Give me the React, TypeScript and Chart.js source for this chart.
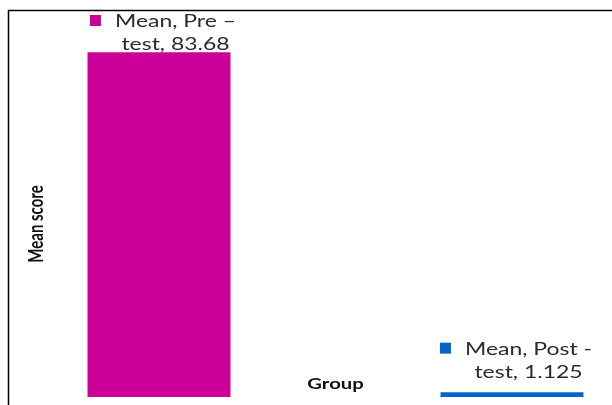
import { useEffect, useRef } from 'react';
import { Chart, registerables } from 'chart.js';

Chart.register(...registerables);

// Mean score per test group (the middle slot is an empty spacer)
const seriesName = 'Mean';
const groups = ['Pre – test', '', 'Post - test'];
const means: (number | null)[] = [83.68, null, 1.125];
const barColors = ['#CC0099', 'rgba(0,0,0,0)', '#0066CC'];
const yAxisTitle = 'Mean score';
const xAxisTitle = 'Group';
const yMin = 0;
const yMax = 84;

// Text in this figure is drawn horizontally widened
const STRETCH = 1.35;
const LABEL_FONT = '17px Lato';
const TITLE_FONT = 'bold 15px Lato';
const LABEL_COLOR = '#2b2b2b';
const TITLE_COLOR = '#111111';

function wrapText(ctx: CanvasRenderingContext2D, text: string, maxWidth: number): string[] {
  const words = text.split(' ');
  const lines: string[] = [];
  let current = '';
  for (const w of words) {
    const attempt = current ? current + ' ' + w : w;
    if (current && ctx.measureText(attempt).width > maxWidth) {
      lines.push(current);
      current = w;
    } else {
      current = attempt;
    }
  }
  if (current) lines.push(current);
  return lines;
}

function drawStretched(ctx: CanvasRenderingContext2D, text: string, x: number, y: number) {
  ctx.save();
  ctx.translate(x, y);
  ctx.scale(STRETCH, 1);
  ctx.fillText(text, 0, 0);
  ctx.restore();
}

const decorations = {
  id: 'decorations',
  beforeDraw(chart: Chart) {
    const { ctx } = chart;
    ctx.save();
    ctx.strokeStyle = '#000000';
    ctx.lineWidth = 1.5;
    ctx.beginPath();
    ctx.moveTo(8.5, chart.height);
    ctx.lineTo(8.5, 10.5);
    ctx.lineTo(chart.width, 10.5);
    ctx.stroke();
    ctx.restore();
  },
  afterDatasetsDraw(chart: Chart) {
    const { ctx, chartArea } = chart;
    const meta = chart.getDatasetMeta(0);

    // Data labels with a colour key, placed above each bar
    meta.data.forEach((bar: any, i: number) => {
      const v = means[i];
      if (v == null) return;
      ctx.save();
      ctx.font = LABEL_FONT;
      const lines = wrapText(ctx, `${seriesName}, ${groups[i]}, ${v}`, 100);
      const textW = Math.max(...lines.map((l) => ctx.measureText(l).width * STRETCH));
      const sq = 11;
      const gap = 14;
      const blockW = sq + gap + textW;
      const left = bar.x + 4 - blockW / 2;
      const textCenter = left + sq + gap + textW / 2;
      const lineH = 23;
      let lastBase = bar.y - 14.7;
      let firstBase = lastBase - lineH * (lines.length - 1);
      const minFirst = chartArea.top - 24;
      if (firstBase < minFirst) {
        lastBase += minFirst - firstBase;
        firstBase = minFirst;
      }
      ctx.fillStyle = barColors[i];
      ctx.fillRect(left, firstBase - 12, sq, sq);
      ctx.fillStyle = LABEL_COLOR;
      ctx.textAlign = 'center';
      ctx.textBaseline = 'alphabetic';
      lines.forEach((l, k) => drawStretched(ctx, l, textCenter, firstBase + k * lineH));
      ctx.restore();
    });

    // Axis titles
    ctx.save();
    ctx.font = TITLE_FONT;
    ctx.fillStyle = TITLE_COLOR;
    ctx.textAlign = 'center';
    ctx.textBaseline = 'alphabetic';
    drawStretched(ctx, xAxisTitle, (chartArea.left + chartArea.right) / 2, chartArea.bottom - 8.5);
    ctx.translate(36, (chartArea.top + chartArea.bottom) / 2);
    ctx.scale(STRETCH, 1);
    ctx.rotate(-Math.PI / 2);
    ctx.textBaseline = 'middle';
    ctx.fillText(yAxisTitle, 0, 0);
    ctx.restore();
  },
};

export default function App() {
  const canvasRef = useRef<HTMLCanvasElement | null>(null);

  useEffect(() => {
    const canvas = canvasRef.current;
    if (!canvas) return;
    const chart = new Chart(canvas, {
      type: 'bar',
      data: {
        labels: groups,
        datasets: [
          {
            label: seriesName,
            data: means,
            backgroundColor: barColors,
            borderWidth: 0,
            categoryPercentage: 0.9,
            barPercentage: 0.9,
          },
        ],
      },
      options: {
        responsive: false,
        animation: false,
        devicePixelRatio: 1,
        layout: { padding: { left: 70.75, right: 11.75, top: 51, bottom: 8 } },
        plugins: {
          legend: { display: false },
          tooltip: { enabled: false },
        },
        scales: {
          x: { display: false },
          y: { display: false, min: yMin, max: yMax },
        },
      },
      plugins: [decorations],
    });
    return () => chart.destroy();
  }, []);

  return (
    <div style={{ position: 'fixed', left: 0, top: 0, width: 612, height: 405, background: '#ffffff' }}>
      <canvas ref={canvasRef} width={612} height={405} style={{ width: 612, height: 405, display: 'block' }} />
    </div>
  );
}
